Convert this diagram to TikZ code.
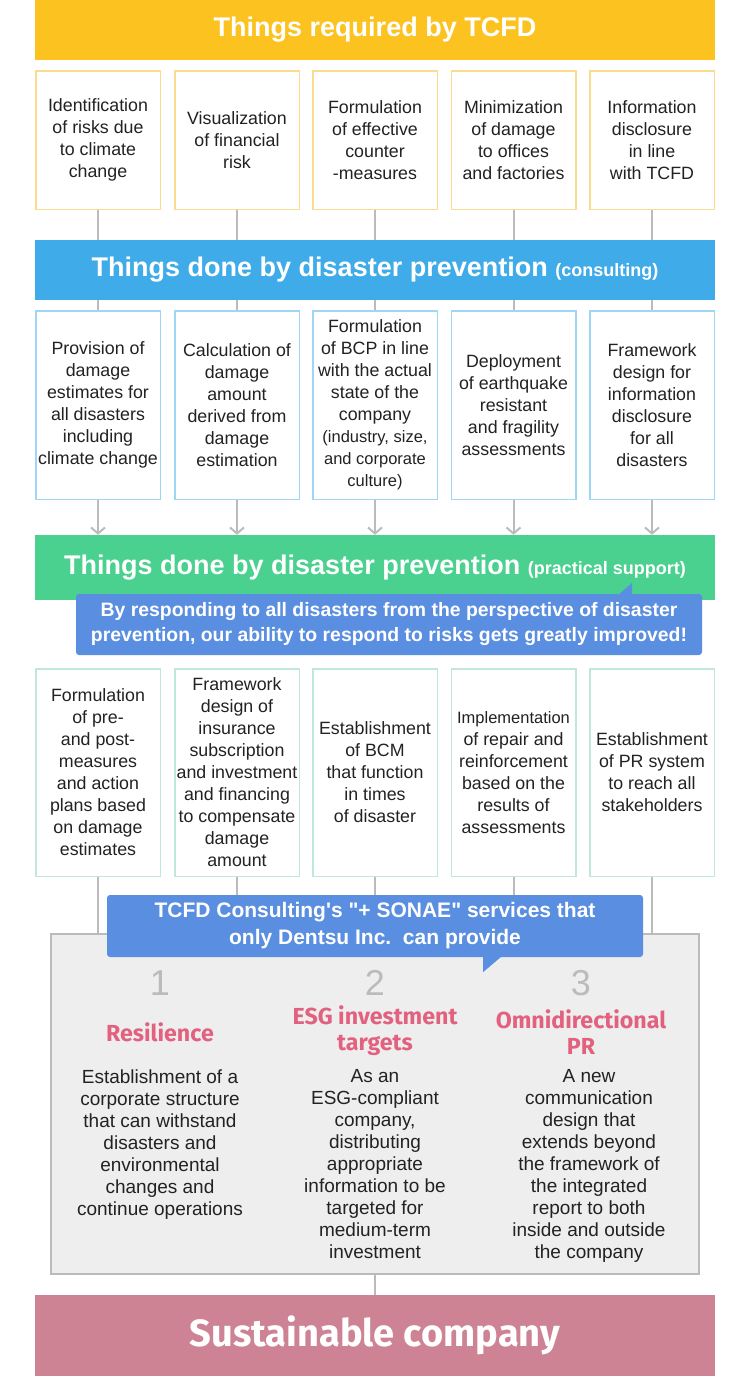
\documentclass[tikz,border=0pt]{standalone}
\usepackage{fontspec}
\setmainfont{Liberation Sans}
\newfontfamily\headfont{Fira Sans}
\usetikzlibrary{positioning,arrows.meta,calc}
\definecolor{tcfdyellow}{HTML}{FCC21F}
\definecolor{tcfdyellowline}{HTML}{F9DC8E}
\definecolor{tcfdblue}{HTML}{3FABE9}
\definecolor{tcfdblueline}{HTML}{9ED6F6}
\definecolor{tcfdgreen}{HTML}{4AD08F}
\definecolor{tcfdgreenline}{HTML}{BFE9D6}
\definecolor{tcfdcallout}{HTML}{5A8EE0}
\definecolor{tcfdgray}{HTML}{BBBBBB}
\definecolor{tcfdpanel}{HTML}{EEEEEE}
\definecolor{tcfdpink}{HTML}{E2617F}
\definecolor{tcfdrose}{HTML}{CD8394}
\definecolor{tcfdtext}{HTML}{222222}
\newcommand\barfont{\bfseries\fontsize{27}{30}\selectfont}
\newcommand\barsmall{\fontsize{18}{20}\selectfont}
\newcommand\boxfont{\fontsize{17.8}{22}\selectfont}
\newcommand\boxsmall{\fontsize{16.5}{22}\selectfont}
\newcommand\calloutfont{\bfseries\fontsize{19.4}{25}\selectfont}
\newcommand\tagfont{\bfseries\fontsize{21}{27}\selectfont}
\newcommand\numfont{\fontsize{36}{40}\selectfont}
\newcommand\pillarfont{\headfont\bfseries\fontsize{23.2}{26}\selectfont}
\newcommand\descfont{\fontsize{19}{22}\selectfont}
\newcommand\susfont{\headfont\bfseries\fontsize{38}{42}\selectfont}

\begin{document}
\begin{tikzpicture}[x=1pt, y=-1pt,
  bar/.style={fill=#1, text=white, minimum width=680, inner sep=0, font=\barfont},
  box/.style={draw=#1, line width=1.5, fill=white, minimum width=124.5, inner sep=0,
              align=center, font=\boxfont, text=tcfdtext},
  callout/.style={fill=tcfdcallout, rounded corners=3pt, text=white, align=center,
                  font=\calloutfont, inner sep=0},
  link/.style={draw=tcfdgray, line width=2},
  arr/.style={link, -{Straight Barb[length=6pt,width=14pt]}},
  num/.style={font=\numfont, text=tcfdgray},
  pillar/.style={font=\pillarfont, text=tcfdpink, align=center},
  desc/.style={font=\descfont, text=tcfdtext, align=center, anchor=north},
]
\useasboundingbox (0,0) rectangle (750,1376);

% TCFD requirements
\node[bar=tcfdyellow, minimum height=60] (need) at (375,30) {Things required by TCFD};
\node[box=tcfdyellowline, minimum height=138.5] (n1) at (98,140) {Identification\\of risks due\\to climate\\change};
\node[box=tcfdyellowline, minimum height=138.5] (n2) at (237,140) {Visualization\\of financial\\risk};
\node[box=tcfdyellowline, minimum height=138.5] (n3) at (375,140) {Formulation\\of effective\\counter\\-measures};
\node[box=tcfdyellowline, minimum height=138.5] (n4) at (513.5,140) {Minimization\\of damage\\to offices\\and factories};
\node[box=tcfdyellowline, minimum height=138.5] (n5) at (652,140) {Information\\disclosure\\in line\\with TCFD};

% consulting
\node[bar=tcfdblue, minimum height=60] (cons) at (375,270) {Things done by disaster prevention {\barsmall(consulting)}};
\node[box=tcfdblueline, minimum height=188.5] (c1) at (98,405) {Provision of\\damage\\estimates for\\all disasters\\including\\climate change};
\node[box=tcfdblueline, minimum height=188.5] (c2) at (237,405) {Calculation of\\damage\\amount\\derived from\\damage\\estimation};
\node[box=tcfdblueline, minimum height=188.5] (c3) at (375,405) {Formulation\\of BCP in line\\with the actual\\state of the\\company\\{\boxsmall(industry, size,}\\{\boxsmall and corporate}\\{\boxsmall culture)}};
\node[box=tcfdblueline, minimum height=188.5] (c4) at (513.5,405) {Deployment\\of earthquake\\resistant\\and fragility\\assessments};
\node[box=tcfdblueline, minimum height=188.5] (c5) at (652,405) {Framework\\design for\\information\\disclosure\\for all\\disasters};

% practical support
\node[bar=tcfdgreen, minimum height=65] (prac) at (375,567.5) {Things done by disaster prevention {\barsmall(practical support)}};
\node[callout, minimum width=626, minimum height=61] (msg) at (389,624.5) {By responding to all disasters from the perspective of disaster\\prevention, our ability to respond to risks gets greatly improved!};
\fill[tcfdcallout] ([xshift=-85pt,yshift=-2pt]msg.north east) -- ([xshift=-70pt,yshift=-2pt]msg.north east)
  -- ([xshift=-70pt,yshift=11pt]msg.north east) -- cycle;
\node[box=tcfdgreenline, minimum height=207.5] (p1) at (98,772.5) {Formulation\\of pre-\\and post-\\measures\\and action\\plans based\\on damage\\estimates};
\node[box=tcfdgreenline, minimum height=207.5] (p2) at (237,772.5) {Framework\\design of\\insurance\\subscription\\and investment\\and financing\\to compensate\\damage\\amount};
\node[box=tcfdgreenline, minimum height=207.5] (p3) at (375,772.5) {Establishment\\of BCM\\that function\\in times\\of disaster};
\node[box=tcfdgreenline, minimum height=207.5] (p4) at (513.5,772.5) {{\boxsmall Implementation}\\of repair and\\reinforcement\\based on the\\results of\\assessments};
\node[box=tcfdgreenline, minimum height=207.5] (p5) at (652,772.5) {Establishment\\of PR system\\to reach all\\stakeholders};

% + SONAE services
\node[draw=tcfdgray, line width=2.5, fill=tcfdpanel, minimum width=648, minimum height=340, inner sep=0] (svc) at (375,1104) {};
\node[num] (k1) at (160,983) {1};
\node[num] (k2) at (375,983) {2};
\node[num] (k3) at (581,983) {3};
\node[pillar] (t1) at (160,1032) {Resilience};
\node[pillar] (t2) at (375,1031) {ESG investment\\targets};
\node[pillar] (t3) at (581,1032) {Omnidirectional\\PR};
\node[desc] (d1) at (160,1066) {Establishment of a\\corporate structure\\that can withstand\\disasters and\\environmental\\changes and\\continue operations};
\node[desc] (d2) at (375,1066) {As an\\ESG-compliant\\company,\\distributing\\appropriate\\information to be\\targeted for\\medium-term\\investment};
\node[desc] (d3) at (589,1066) {A new\\communication\\design that\\extends beyond\\the framework of\\the integrated\\report to both\\inside and outside\\the company};
\node[bar=tcfdrose, minimum height=81, font=\susfont] (sus) at (375,1335.5) {Sustainable company};

\draw[link] (n1) -- (n1 |- cons.north);
\draw[link] (n2) -- (n2 |- cons.north);
\draw[link] (n3) -- (n3 |- cons.north);
\draw[link] (n4) -- (n4 |- cons.north);
\draw[link] (n5) -- (n5 |- cons.north);
\draw[link] (cons.south -| c1) -- (c1);
\draw[link] (cons.south -| c2) -- (c2);
\draw[link] (cons.south -| c3) -- (c3);
\draw[link] (cons.south -| c4) -- (c4);
\draw[link] (cons.south -| c5) -- (c5);
\draw[arr] (c1) -- (c1 |- prac.north);
\draw[arr] (c2) -- (c2 |- prac.north);
\draw[arr] (c3) -- (c3 |- prac.north);
\draw[arr] (c4) -- (c4 |- prac.north);
\draw[arr] (c5) -- (c5 |- prac.north);
\draw[link] (p1) -- (p1 |- svc.north);
\draw[link] (p2) -- (p2 |- svc.north);
\draw[link] (p3) -- (p3 |- svc.north);
\draw[link] (p4) -- (p4 |- svc.north);
\draw[link] (p5) -- (p5 |- svc.north);
\draw[link] (svc) -- (sus);

\node[callout, font=\tagfont, minimum width=536, minimum height=62] (tag) at (375,926) {TCFD Consulting\textquotesingle s \textquotedbl+ SONAE\textquotedbl\ services that\\only Dentsu Inc.\ \ can provide};
\fill[tcfdcallout] ([xshift=108pt,yshift=2pt]tag.south) -- ([xshift=128pt,yshift=2pt]tag.south)
  -- ([xshift=108pt,yshift=-15pt]tag.south) -- cycle;
\end{tikzpicture}
\end{document}
